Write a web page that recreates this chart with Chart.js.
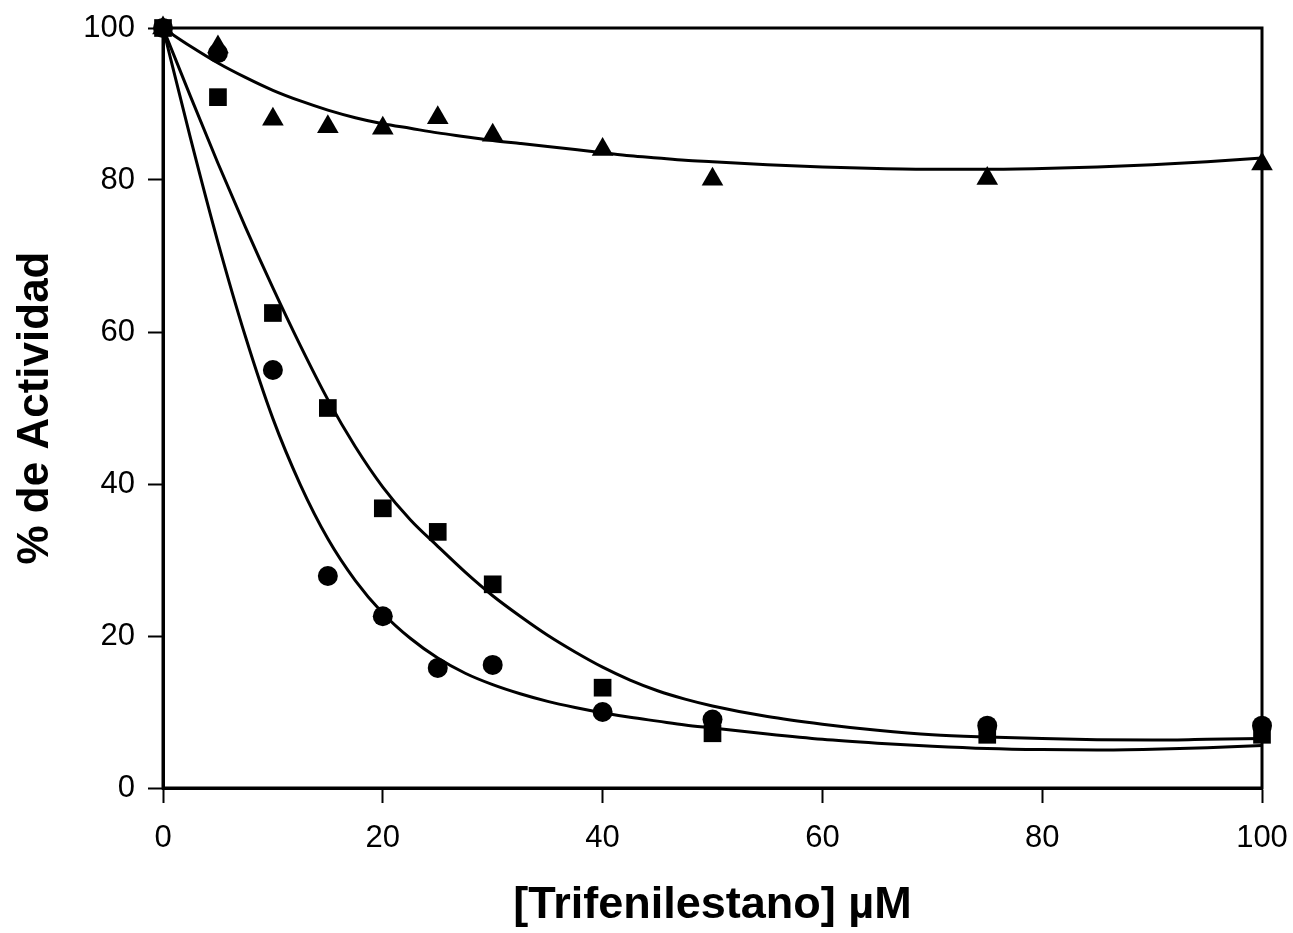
<!DOCTYPE html>
<html>
<head>
<meta charset="utf-8">
<script src="https://cdn.jsdelivr.net/npm/chart.js@4/dist/chart.umd.min.js"></script>
<style>
  html, body { margin: 0; padding: 0; background: #ffffff; }
  #wrap { width: 1293px; height: 933px; position: relative; }
</style>
</head>
<body>
<div id="wrap"><canvas id="c" width="1293" height="933"></canvas></div>
<script>
// Measured data points
const concentrations = [0, 5, 10, 15, 20, 25, 30, 40, 50, 75, 100];
const circleSeries   = [100, 96.7, 55.0, 27.9, 22.6, 15.8, 16.2, 10.0, 9.0, 8.2, 8.2];
const squareSeries   = [100, 90.9, 62.5, 50.0, 36.8, 33.7, 26.8, 13.2, 7.2, 7.0, 7.0];
const triangleSeries = [100, 97.5, 88.0, 87.0, 86.8, 88.2, 85.9, 84.0, 80.1, 80.2, 82.1];

// Fitted curves
const curveX      = [0, 2.5, 5, 7.5, 10, 12.5, 15, 17.5, 20, 22.5, 25, 27.5, 30, 32.5, 35, 37.5, 40, 42.5, 45, 47.5, 50, 55, 60, 65, 70, 75, 80, 85, 90, 95, 100];
const circleFit   = [100, 85.5, 71.8, 59.4, 48.6, 39.9, 32.8, 27.3, 23.0, 19.7, 17.1, 15.1, 13.6, 12.4, 11.4, 10.6, 9.9, 9.3, 8.8, 8.3, 7.9, 7.1, 6.4, 5.9, 5.5, 5.2, 5.05, 5.0, 5.1, 5.3, 5.6];
const squareFit   = [100, 91.0, 82.2, 73.8, 65.8, 58.2, 51.1, 44.9, 39.6, 35.3, 31.8, 28.4, 25.3, 22.6, 20.1, 17.9, 15.9, 14.2, 12.8, 11.7, 10.8, 9.4, 8.4, 7.6, 7.0, 6.7, 6.5, 6.35, 6.3, 6.4, 6.5];
const triangleFit = [100, 97.6, 95.4, 93.5, 91.8, 90.4, 89.2, 88.2, 87.4, 86.8, 86.2, 85.7, 85.2, 84.8, 84.4, 84.0, 83.6, 83.2, 82.9, 82.6, 82.4, 82.0, 81.7, 81.5, 81.4, 81.4, 81.5, 81.7, 82.0, 82.4, 82.9];

// Axis
const xTicks = [0, 20, 40, 60, 80, 100];
const yTicks = [0, 20, 40, 60, 80, 100];
const xTitle = '[Trifenilestano] \u00B5M';
const yTitle = '% de Actividad';

const pts = (xs, ys) => xs.map((x, i) => ({ x: x, y: ys[i] }));

const markerDs = (data, style, radius) => ({
  type: 'scatter',
  data: pts(concentrations, data),
  pointStyle: style,
  pointRadius: radius,
  pointHoverRadius: radius,
  backgroundColor: '#000000',
  borderColor: '#000000',
  borderWidth: 0,
  showLine: false,
  clip: false,
  order: 1
});

const curveDs = (data) => ({
  type: 'line',
  data: pts(curveX, data),
  borderColor: '#000000',
  borderWidth: 3,
  pointRadius: 0,
  fill: false,
  cubicInterpolationMode: 'monotone',
  clip: false,
  order: 2
});

const framePlugin = {
  id: 'frame',
  beforeDatasetsDraw(chart) {
    const a = chart.chartArea;
    const ctx = chart.ctx;
    ctx.save();
    ctx.strokeStyle = '#000000';
    ctx.lineWidth = 3;
    ctx.strokeRect(a.left, a.top, a.right - a.left, a.bottom - a.top);
    ctx.restore();
  }
};

new Chart(document.getElementById('c'), {
  data: {
    datasets: [
      markerDs(triangleSeries, 'triangle', 12.5),
      markerDs(squareSeries, 'rect', 12.5),
      markerDs(circleSeries, 'circle', 10),
      curveDs(triangleFit),
      curveDs(squareFit),
      curveDs(circleFit)
    ]
  },
  options: {
    responsive: false,
    animation: false,
    devicePixelRatio: 1,
    layout: { padding: { left: 0, top: 28, right: 31, bottom: 0 } },
    plugins: { legend: { display: false }, tooltip: { enabled: false } },
    scales: {
      x: {
        type: 'linear',
        min: 0, max: 100,
        afterFit: (s) => { s.height = 145; s.paddingLeft = 0; s.paddingRight = 0; },
        afterBuildTicks: (s) => { s.ticks = xTicks.map(v => ({ value: v })); },
        grid: { display: true, drawOnChartArea: false, drawTicks: true, tickLength: 15, tickColor: '#000000', tickWidth: 2 },
        border: { display: true, color: '#000000', width: 3 },
        ticks: { color: '#000000', padding: 17, maxRotation: 0, font: { family: 'Liberation Sans', size: 31 } },
        title: { display: true, text: xTitle, color: '#000000', padding: { top: 0, bottom: 5 },
                 font: { family: 'Liberation Sans', size: 45, weight: 'bold', lineHeight: 1 } }
      },
      y: {
        type: 'linear',
        min: 0, max: 100,
        afterFit: (s) => { s.width = 163; s.paddingTop = 0; s.paddingBottom = 0; },
        afterBuildTicks: (s) => { s.ticks = yTicks.map(v => ({ value: v })); },
        grid: { display: true, drawOnChartArea: false, drawTicks: true, tickLength: 15, tickColor: '#000000', tickWidth: 2 },
        border: { display: true, color: '#000000', width: 3 },
        ticks: { color: '#000000', padding: 13, font: { family: 'Liberation Sans', size: 31 } },
        title: { display: true, text: yTitle, color: '#000000', padding: { top: 14, bottom: 0 },
                 font: { family: 'Liberation Sans', size: 44, weight: 'bold', lineHeight: 1 } }
      }
    }
  },
  plugins: [framePlugin]
});
</script>
</body>
</html>
